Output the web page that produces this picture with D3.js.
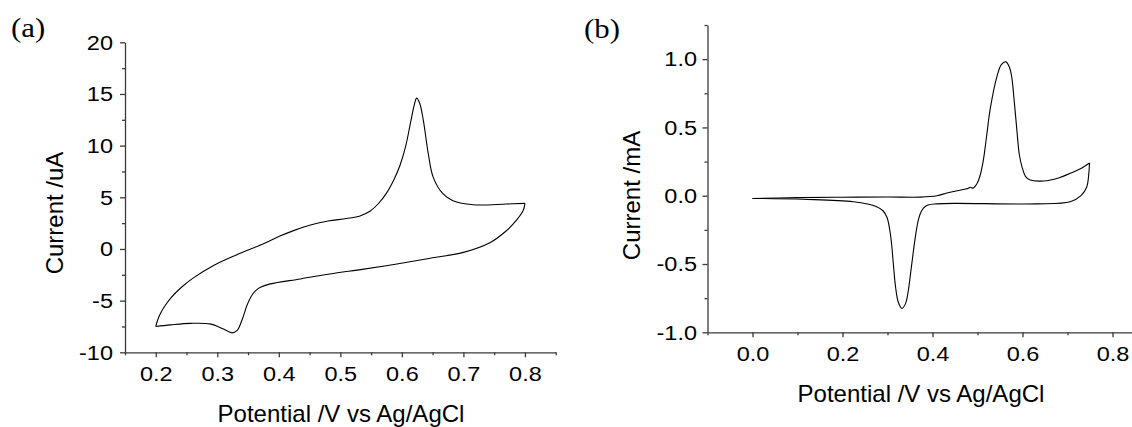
<!DOCTYPE html>
<html>
<head>
<meta charset="utf-8">
<script src="https://cdn.jsdelivr.net/npm/d3@7"></script>
<style>
    body { margin: 0; background: #fff; }
    svg { display: block; }
    .axis path, .axis line { stroke: #3a3a3a; stroke-width: 1.3; }
    .axis text { font-family: "Liberation Sans", Arial, sans-serif; font-size: 21px; fill: #000; }
    .title { font-family: "Liberation Sans", Arial, sans-serif; font-size: 24px; fill: #000; }
    .tag { font-family: "Liberation Serif", "Times New Roman", serif; font-size: 28px; fill: #000; }
    .cv { fill: none; stroke: #000; stroke-width: 1.1; }
</style>
</head>
<body>
<div id="chart"></div>
<script>
// panel (a): forward (anodic) scan, 0.2 -> 0.8 V, current in uA
var potA_fwd = [0.2, 0.203, 0.208, 0.215, 0.225, 0.24, 0.26, 0.294, 0.33, 0.375, 0.4, 0.425, 0.45, 0.48, 0.51, 0.532, 0.548, 0.562, 0.575, 0.587, 0.597, 0.606, 0.614, 0.62, 0.624, 0.629, 0.635, 0.643, 0.651, 0.667, 0.683, 0.716, 0.77, 0.8];
var curA_fwd = [-7.5, -6.9, -6.2, -5.5, -4.7, -3.8, -2.85, -1.6, -0.6, 0.5, 1.2, 1.8, 2.3, 2.7, 2.95, 3.2, 3.65, 4.4, 5.4, 6.7, 8.1, 9.9, 12.2, 13.9, 14.6, 14.1, 12.4, 9.19, 6.93, 5.32, 4.67, 4.28, 4.35, 4.41];
// panel (a): reverse scan, 0.8 -> 0.2 V
var potA_rev = [0.8, 0.797, 0.781, 0.77, 0.743, 0.7, 0.646, 0.592, 0.538, 0.483, 0.435, 0.386, 0.37, 0.362, 0.355, 0.348, 0.34, 0.332, 0.324, 0.31, 0.288, 0.256, 0.224, 0.2];
var curA_rev = [4.41, 3.7, 2.42, 1.77, 0.6, -0.33, -0.9, -1.45, -1.95, -2.42, -2.9, -3.38, -3.7, -4.05, -4.6, -5.5, -6.9, -7.9, -8.12, -7.74, -7.25, -7.2, -7.35, -7.5];

// panel (b): forward scan, 0.0 -> 0.75 V, current in mA
var potB_fwd = [0.0, 0.1, 0.2, 0.3, 0.373, 0.41, 0.432, 0.455, 0.472, 0.48, 0.484, 0.49, 0.499, 0.506, 0.513, 0.52, 0.528, 0.543, 0.553, 0.563, 0.571, 0.576, 0.582, 0.588, 0.593, 0.599, 0.607, 0.617, 0.647, 0.68, 0.706, 0.73, 0.749];
var curB_fwd = [-0.02, -0.014, -0.011, -0.009, -0.01, 0.0, 0.02, 0.037, 0.048, 0.055, 0.062, 0.056, 0.09, 0.15, 0.26, 0.43, 0.63, 0.87, 0.96, 0.98, 0.94, 0.87, 0.68, 0.46, 0.3, 0.21, 0.14, 0.115, 0.108, 0.13, 0.164, 0.2, 0.24];
// panel (b): reverse scan, 0.75 -> 0.0 V
var potB_rev = [0.749, 0.747, 0.743, 0.73, 0.706, 0.632, 0.447, 0.41, 0.39, 0.38, 0.373, 0.367, 0.362, 0.357, 0.352, 0.346, 0.34, 0.332, 0.324, 0.318, 0.313, 0.309, 0.305, 0.299, 0.29, 0.276, 0.224, 0.113, 0.0];
var curB_rev = [0.24, 0.15, 0.066, 0.0, -0.044, -0.06, -0.056, -0.06, -0.068, -0.09, -0.13, -0.2, -0.3, -0.42, -0.55, -0.7, -0.79, -0.825, -0.78, -0.67, -0.5, -0.35, -0.25, -0.16, -0.11, -0.08, -0.044, -0.026, -0.02];

var ticksA_x = [0.2, 0.3, 0.4, 0.5, 0.6, 0.7, 0.8];
var minorA_x = [0.15, 0.25, 0.35, 0.45, 0.55, 0.65, 0.75, 0.85];
var ticksA_y = [-10, -5, 0, 5, 10, 15, 20];
var minorA_y = [-7.5, -2.5, 2.5, 7.5, 12.5, 17.5];
var ticksB_x = [0.0, 0.2, 0.4, 0.6, 0.8];
var minorB_x = [-0.1, 0.1, 0.3, 0.5, 0.7];
var ticksB_y = [-1.0, -0.5, 0.0, 0.5, 1.0];
var minorB_y = [-0.75, -0.25, 0.25, 0.75, 1.25];

var W = 1132, H = 427;
var sx = 1.12; // the source glyphs are a bit wider than Arial

var svg = d3.select("#chart")
    .append("svg")
    .attr("width", W)
    .attr("height", H);

svg.append("rect")
    .attr("width", W)
    .attr("height", H)
    .attr("fill", "#fff");

function zip(xs, ys) {
    return xs.map(function (v, i) {
        return [v, ys[i]];
    });
}

// plain hyphen for negatives, like the original plot
function hyphen(f) {
    return function (d) {
        return f(d).replace("\u2212", "-");
    };
}

function panel(p) {
    var x = d3.scaleLinear().domain(p.xdom).range([p.left, p.right]);
    var y = d3.scaleLinear().domain(p.ydom).range([p.bottom, p.top]);
    var g = svg.append("g");

    // minor ticks first, then major ticks with labels
    g.append("g")
        .attr("class", "axis")
        .attr("transform", "translate(0," + p.bottom + ")")
        .call(d3.axisBottom(x).tickValues(p.minorX).tickSize(3).tickFormat(""))
        .select(".domain").remove();
    g.append("g")
        .attr("class", "axis")
        .attr("transform", "translate(" + p.left + ",0)")
        .call(d3.axisLeft(y).tickValues(p.minorY).tickSize(3).tickFormat(""))
        .select(".domain").remove();

    var xa = g.append("g")
        .attr("class", "axis")
        .attr("transform", "translate(0," + p.bottom + ")")
        .call(d3.axisBottom(x)
            .tickValues(p.ticksX)
            .tickSize(5)
            .tickSizeOuter(0)
            .tickPadding(9)
            .tickFormat(hyphen(d3.format(".1f"))));
    xa.selectAll("text")
        .attr("transform", "scale(" + sx + ",1)");

    var ya = g.append("g")
        .attr("class", "axis")
        .attr("transform", "translate(" + p.left + ",0)")
        .call(d3.axisLeft(y)
            .tickValues(p.ticksY)
            .tickSize(5)
            .tickSizeOuter(0)
            .tickFormat(hyphen(p.yfmt)));
    ya.selectAll("text")
        .attr("x", 0)
        .attr("transform", "translate(" + (-p.ylabGap) + ",0) scale(" + sx + ",1)");

    var line = d3.line()
        .curve(d3.curveCatmullRom.alpha(0.5))
        .x(function (d) { return x(d[0]); })
        .y(function (d) { return y(d[1]); });

    p.branches.forEach(function (b) {
        g.append("path")
            .attr("class", "cv")
            .datum(b)
            .attr("d", line);
    });

    g.append("text")
        .attr("class", "title")
        .attr("x", p.xtitle[0])
        .attr("y", p.xtitle[1])
        .attr("text-anchor", "middle")
        .text("Potential /V vs Ag/AgCl");

    g.append("text")
        .attr("class", "title")
        .attr("transform", "translate(" + p.ytitle[0] + "," + p.ytitle[1] + ") rotate(-90)")
        .attr("text-anchor", "middle")
        .text(p.ylabel);

    g.append("text")
        .attr("class", "tag")
        .attr("transform", "translate(" + p.tag[0] + "," + p.tag[1] + ") scale(1.1,1)")
        .text(p.tagText);
}

panel({
    xdom: [0.15, 0.85], ydom: [-10, 20],
    left: 125, right: 555.7, top: 42.3, bottom: 352.3,
    ticksX: ticksA_x, minorX: minorA_x, ticksY: ticksA_y, minorY: minorA_y,
    yfmt: d3.format("d"), ylabGap: 12,
    branches: [zip(potA_fwd, curA_fwd), zip(potA_rev, curA_rev)],
    xtitle: [341, 421.5], ytitle: [63, 213], ylabel: "Current /uA",
    tag: [11, 37], tagText: "(a)"
});

panel({
    xdom: [-0.1, 0.85], ydom: [-1.0, 1.25],
    left: 707.5, right: 1135, top: 25, bottom: 332.3,
    ticksX: ticksB_x, minorX: minorB_x, ticksY: ticksB_y, minorY: minorB_y,
    yfmt: d3.format(".1f"), ylabGap: 10.5,
    branches: [zip(potB_fwd, curB_fwd), zip(potB_rev, curB_rev)],
    xtitle: [921, 401.5], ytitle: [640, 195.5], ylabel: "Current /mA",
    tag: [584, 37.5], tagText: "(b)"
});
</script>
</body>
</html>
